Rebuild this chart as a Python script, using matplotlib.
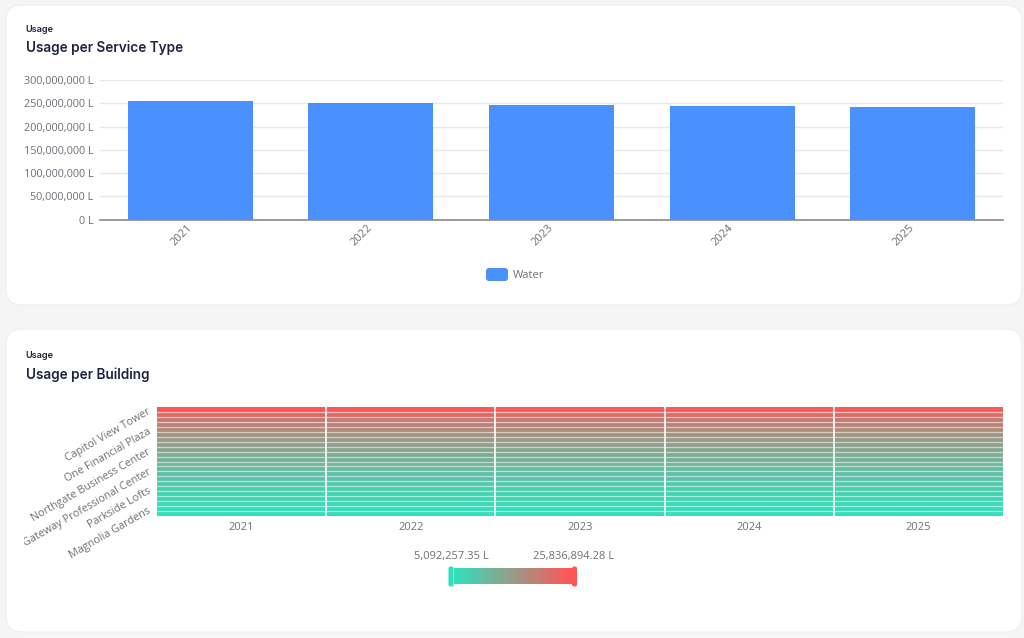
import matplotlib
matplotlib.use("Agg")
import matplotlib.pyplot as plt
from matplotlib.patches import FancyBboxPatch
from matplotlib.colors import LinearSegmentedColormap, Normalize
from matplotlib.cm import ScalarMappable
from matplotlib.transforms import Bbox, IdentityTransform, TransformedBbox, ScaledTranslation
import numpy as np

years = ["2021", "2022", "2023", "2024", "2025"]
water = [254000000, 250500000, 246000000, 244000000, 241000000]
y_ticks = [0, 50000000, 100000000, 150000000, 200000000, 250000000, 300000000]
building_labels = ["Magnolia Gardens", "Parkside Lofts", "Gateway Professional Center",
                   "Northgate Business Center", "One Financial Plaza", "Capitol View Tower"]
label_rows = [0, 4, 8, 12, 16, 20]
# rows run bottom to top, in millions of litres
usage_2021 = [5.1, 5.6, 6.2, 6.8, 7.4, 8.0, 8.7, 9.4, 10.1, 10.8, 11.5, 12.3, 13.1, 13.9, 14.8, 15.7, 16.7, 17.9, 19.2, 20.7, 22.6, 25.8]
usage_2022 = [5.1, 5.6, 6.2, 6.8, 7.4, 8.0, 8.7, 9.4, 10.1, 10.8, 11.5, 12.2, 13.0, 13.9, 14.7, 15.7, 16.7, 17.8, 19.1, 20.6, 22.5, 25.6]
usage_2023 = [5.2, 5.6, 6.2, 6.8, 7.4, 8.0, 8.7, 9.4, 10.0, 10.7, 11.4, 12.2, 13.0, 13.8, 14.7, 15.6, 16.6, 17.8, 19.0, 20.5, 22.4, 25.4]
usage_2024 = [5.2, 5.7, 6.2, 6.8, 7.4, 8.0, 8.6, 9.3, 10.0, 10.7, 11.4, 12.2, 12.9, 13.8, 14.6, 15.6, 16.6, 17.7, 19.0, 20.4, 22.3, 25.2]
usage_2025 = [5.2, 5.7, 6.2, 6.8, 7.3, 7.9, 8.6, 9.3, 10.0, 10.6, 11.3, 12.1, 12.9, 13.7, 14.6, 15.5, 16.5, 17.7, 18.9, 20.3, 22.2, 25.0]
range_min = 5092257.35
range_max = 25836894.28
range_labels = ["5,092,257.35 L", "25,836,894.28 L"]

W, H = 1024, 638
BLUE = "#4A90FF"
TEAL = "#30E0BC"
RED = "#FF5555"
NAVY = "#1F2340"
GREY = "#6E7079"
LABEL_FONT = "Open Sans"
TITLE_FONT = "Inter"

fig = plt.figure(figsize=(W / 100, H / 100), dpi=100, facecolor="#F5F5F5")


def px_axes(x0, y0, x1, y1, **kw):
    return fig.add_axes([x0 / W, 1 - y1 / H, (x1 - x0) / W, (y1 - y0) / H], **kw)


bg = px_axes(0, 0, W, H, zorder=0)
bg.set_xlim(0, W)
bg.set_ylim(H, 0)
bg.axis("off")

for (x0, y0, x1, y1) in [(6, 5, 1022, 305), (6, 329, 1022, 632)]:
    bg.add_patch(FancyBboxPatch((x0 + 16, y0 + 16), x1 - x0 - 32, y1 - y0 - 32,
                                boxstyle="round,pad=16,rounding_size=16",
                                fc="white", ec="#EEEEEE", lw=0.8))

for (txt, sub_y, title_y, sub) in [("Usage per Service Type", 29, 47.5, "Usage"),
                                   ("Usage per Building", 356, 374.5, "Usage")]:
    bg.text(25.5, sub_y, sub, fontsize=6.6, family=TITLE_FONT, weight="semibold",
            color=NAVY, va="center", ha="left")
    bg.text(25.5, title_y, txt, fontsize=9.8, family=TITLE_FONT, weight="semibold",
            color=NAVY, va="center", ha="left")

# bar chart
ax = px_axes(100, 80, 1003, 219.5, zorder=1)
ax.patch.set_alpha(0)
positions = np.arange(len(years))
ax.bar(positions, water, width=0.692, color=BLUE, zorder=3)
ax.set_xlim(-0.5, 4.5)
ax.set_ylim(0, 300000000)
ax.set_yticks(y_ticks)
ax.set_yticklabels([f"{v:,} L" for v in y_ticks], family=LABEL_FONT, fontsize=7.8, color=GREY)
ax.set_xticks(positions)
ax.set_xticklabels(years, family=LABEL_FONT, fontsize=8, color=GREY, rotation=45,
                   ha="right", va="center", rotation_mode="anchor")
ax.tick_params(axis="y", length=0, pad=4.5)
ax.tick_params(axis="x", length=0, pad=5)
ax.grid(axis="y", color="#E9E9E9", lw=1, zorder=0)
ax.set_axisbelow(True)
for s in ["top", "right", "left"]:
    ax.spines[s].set_visible(False)
ax.spines["bottom"].set_color("#8A8A8A")
ax.spines["bottom"].set_linewidth(1.2)
ax.spines["bottom"].set_zorder(4)
clip = TransformedBbox(Bbox([[24, 0], [W, H]]), IdentityTransform())
for lab in ax.get_yticklabels():
    lab.set_clip_box(clip)
    lab.set_clip_on(True)

# legend
bg.add_patch(FancyBboxPatch((488, 270), 18, 9, boxstyle="round,pad=2,rounding_size=3",
                            fc=BLUE, ec="none"))
bg.text(513, 275, "Water", fontsize=8, family=LABEL_FONT, color=GREY, va="center", ha="left")

# heatmap
cmap = LinearSegmentedColormap.from_list("usage", [TEAL, RED])
norm = Normalize(range_min, range_max)
matrix = np.array([usage_2021, usage_2022, usage_2023, usage_2024, usage_2025]).T * 1e6
hm = px_axes(157, 407, 1003, 516, zorder=1)
hm.pcolormesh(np.arange(len(years) + 1), np.arange(matrix.shape[0] + 1), matrix,
              cmap=cmap, norm=norm, edgecolors="none")
for yy in range(1, matrix.shape[0]):
    hm.axhline(yy, color="white", lw=0.9, alpha=0.55)
for xx in range(1, len(years)):
    hm.axvline(xx, color="white", lw=1.4, alpha=0.85)
hm.set_xticks(np.arange(len(years)) + 0.5)
hm.set_xticklabels(years, family=LABEL_FONT, fontsize=8, color=GREY)
hm.set_yticks(np.array(label_rows) + 0.5)
hm.set_yticklabels(building_labels, family=LABEL_FONT, fontsize=7.8, color=GREY, rotation=30,
                   ha="right", va="center", rotation_mode="anchor")
hm.tick_params(axis="both", length=0)
hm.tick_params(axis="x", pad=4)
hm.tick_params(axis="y", pad=5)
for s in hm.spines.values():
    s.set_visible(False)
up = ScaledTranslation(0, 3 / fig.dpi, fig.dpi_scale_trans)
for lab in hm.get_yticklabels():
    lab.set_transform(lab.get_transform() + up)
    lab.set_clip_box(clip)
    lab.set_clip_on(True)

# continuous range legend
cax = px_axes(454, 568, 572, 584, zorder=1)
cb = fig.colorbar(ScalarMappable(norm=norm, cmap=cmap), cax=cax, orientation="horizontal")
cb.set_ticks([])
cb.outline.set_visible(False)
for xc, col in [(451, TEAL), (574.5, RED)]:
    bg.add_patch(FancyBboxPatch((xc - 1, 568), 2, 17, boxstyle="round,pad=1.5,rounding_size=2",
                                fc=col, ec="none"))
bg.text(451.5, 556, range_labels[0], fontsize=8, family=LABEL_FONT, color=GREY, ha="center", va="center")
bg.text(574, 556, range_labels[1], fontsize=8, family=LABEL_FONT, color=GREY, ha="center", va="center")

fig.savefig("out.png", dpi=100, facecolor=fig.get_facecolor())
